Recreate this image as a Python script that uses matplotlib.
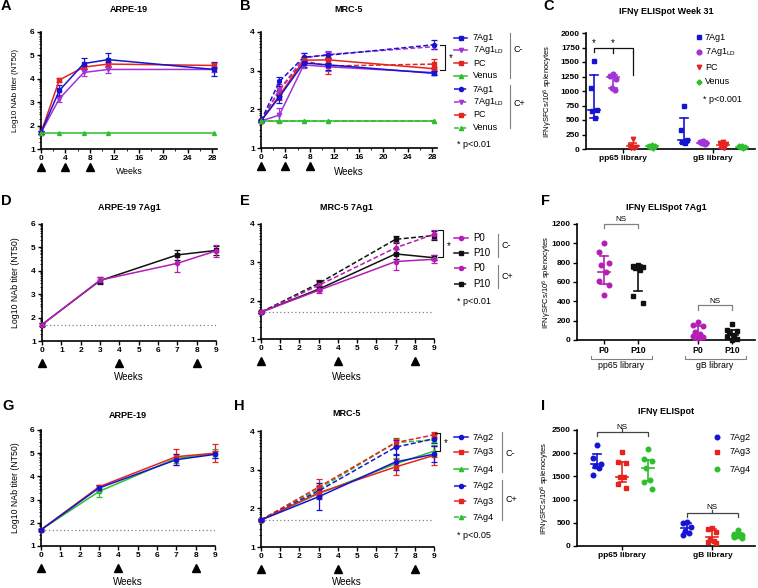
import numpy as np
import matplotlib
matplotlib.use('Agg')
import matplotlib.pyplot as plt
from matplotlib.lines import Line2D
from matplotlib.transforms import ScaledTranslation

plt.rcParams['font.family'] = ['Liberation Sans', 'DejaVu Sans']
plt.rcParams['mathtext.fontset'] = 'custom'
plt.rcParams['mathtext.rm'] = 'Liberation Sans'
plt.rcParams['mathtext.it'] = 'Liberation Sans:italic'
plt.rcParams['mathtext.bf'] = 'Liberation Sans:bold'

# ------------------------------------------------------------------ data
IMMUNIZATION_WEEKS = [0, 4, 8]
LOD = 1.7

# Panel A (ARPE-19)
A_WEEKS = [0, 3, 7, 11, 28.3]
A_7AG1 = [1.70, 3.50, 4.65, 4.82, 4.40]
A_7AG1_ERR = [0.05, 0.25, 0.25, 0.30, 0.30]
A_7AG1LD = [1.70, 3.15, 4.27, 4.40, 4.40]
A_7AG1LD_ERR = [0.05, 0.15, 0.17, 0.15, 0.10]
A_PC = [1.70, 3.95, 4.50, 4.63, 4.57]
A_PC_ERR = [0.05, 0.08, 0.10, 0.10, 0.10]
A_VENUS = [1.70, 1.70, 1.70, 1.70, 1.70]

# Panel B (MRC-5), C- solid / C+ dashed
B_WEEKS = [0, 3, 7, 11, 28.3]
B_7AG1 = [1.70, 2.32, 3.20, 3.15, 2.93]
B_7AG1_ERR = [0.03, 0.15, 0.10, 0.12, 0.05]
B_7AG1LD = [1.70, 1.85, 3.15, 3.10, 2.95]
B_7AG1LD_ERR = [0.03, 0.18, 0.08, 0.10, 0.05]
B_PC = [1.70, 2.35, 3.27, 3.28, 3.05]
B_PC_ERR = [0.03, 0.12, 0.08, 0.08, 0.05]
B_VENUS = [1.70, 1.70, 1.70, 1.70, 1.70]
B_7AG1_CP = [1.70, 2.72, 3.35, 3.40, 3.67]
B_7AG1_CP_ERR = [0.03, 0.12, 0.10, 0.08, 0.12]
B_7AG1LD_CP = [1.70, 2.50, 3.33, 3.42, 3.62]
B_7AG1LD_CP_ERR = [0.03, 0.10, 0.12, 0.08, 0.06]
B_PC_CP = [1.70, 2.50, 3.25, 3.12, 3.17]
B_PC_CP_ERR = [0.03, 0.15, 0.10, 0.20, 0.12]
B_VENUS_CP = [1.70, 1.70, 1.70, 1.70, 1.70]

# Panel C (ELISpot week 31)
C_GROUPS = ['7Ag1', '7Ag1$_{\\rm LD}$', 'PC', 'Venus']
C_PP65 = [[1510, 1050, 670, 650, 530],
          [1290, 1255, 1205, 1060, 1015],
          [170, 60, 40, 25, 15],
          [75, 55, 45, 35, 25]]
C_GB = [[750, 330, 150, 120, 110],
        [135, 115, 100, 95, 90],
        [115, 100, 85, 35, 20],
        [55, 45, 38, 30, 25]]
C_PP65_MID = [670, 1240, 50, 45]
C_PP65_LO = [540, 1050, 10, 25]
C_PP65_HI = [1280, 1275, 110, 70]
C_GB_MID = [150, 105, 75, 38]
C_GB_LO = [110, 95, 20, 25]
C_GB_HI = [540, 130, 110, 50]

# Panel D (ARPE-19 7Ag1)
D_WEEKS = [0, 3, 7, 9]
D_P0 = [1.70, 3.60, 4.32, 4.85]
D_P0_ERR = [0.05, 0.12, 0.35, 0.25]
D_P10 = [1.70, 3.58, 4.68, 4.87]
D_P10_ERR = [0.05, 0.15, 0.22, 0.20]

# Panel E (MRC-5 7Ag1)
E_WEEKS = [0, 3, 7, 9]
E_P0 = [1.70, 2.27, 3.02, 3.08]
E_P0_ERR = [0.02, 0.08, 0.22, 0.10]
E_P10 = [1.70, 2.30, 3.22, 3.12]
E_P10_ERR = [0.02, 0.06, 0.12, 0.06]
E_P0_CP = [1.70, 2.40, 3.38, 3.73]
E_P0_CP_ERR = [0.02, 0.12, 0.15, 0.12]
E_P10_CP = [1.70, 2.45, 3.60, 3.70]
E_P10_CP_ERR = [0.02, 0.08, 0.10, 0.13]

# Panel F (ELISpot 7Ag1)
F_LABELS = ['P0', 'P10', 'P0', 'P10']
F_VALUES = [[1000, 910, 800, 780, 700, 610, 570, 470],
            [780, 770, 760, 750, 720, 460, 380],
            [190, 160, 140, 80, 60, 40, 30, 20],
            [170, 100, 90, 70, 50, 30, 10, 0]]
F_MID = [700, 730, 45, 55]
F_LO = [580, 510, 0, 8]
F_HI = [870, 780, 150, 100]

# Panel G (ARPE-19)
G_WEEKS = [0, 3, 7, 9]
G_7AG2 = [1.70, 3.50, 4.72, 4.95]
G_7AG2_ERR = [0.05, 0.12, 0.25, 0.15]
G_7AG3 = [1.70, 3.55, 4.85, 5.00]
G_7AG3_ERR = [0.05, 0.10, 0.35, 0.40]
G_7AG4 = [1.70, 3.35, 4.78, 4.98]
G_7AG4_ERR = [0.05, 0.25, 0.20, 0.20]

# Panel H (MRC-5)
H_WEEKS = [0, 3, 7, 9]
H_7AG2 = [1.70, 2.30, 3.20, 3.40]
H_7AG2_ERR = [0.02, 0.35, 0.20, 0.20]
H_7AG3 = [1.70, 2.40, 3.07, 3.37]
H_7AG3_ERR = [0.02, 0.15, 0.20, 0.25]
H_7AG4 = [1.70, 2.38, 3.15, 3.48]
H_7AG4_ERR = [0.02, 0.12, 0.15, 0.15]
H_7AG2_CP = [1.70, 2.45, 3.58, 3.80]
H_7AG2_CP_ERR = [0.02, 0.12, 0.20, 0.12]
H_7AG3_CP = [1.70, 2.55, 3.70, 3.90]
H_7AG3_CP_ERR = [0.02, 0.20, 0.12, 0.08]
H_7AG4_CP = [1.70, 2.50, 3.70, 3.77]
H_7AG4_CP_ERR = [0.02, 0.15, 0.10, 0.08]

# Panel I (ELISpot)
I_GROUPS = ['7Ag2', '7Ag3', '7Ag4']
I_PP65 = [[2180, 1890, 1760, 1730, 1690, 1540],
          [2030, 1820, 1790, 1490, 1480, 1330, 1250],
          [2080, 1870, 1830, 1680, 1430, 1390, 1220]]
I_GB = [[520, 490, 400, 320, 290, 240],
        [390, 370, 300, 160, 110, 80, 60],
        [340, 260, 240, 220, 210, 200, 180]]
I_PP65_MID = [1770, 1480, 1680]
I_PP65_LO = [1680, 1380, 1400]
I_PP65_HI = [1980, 1810, 1860]
I_GB_MID = [380, 200, 220]
I_GB_LO = [280, 80, 190]
I_GB_HI = [490, 370, 290]

# ------------------------------------------------------------------ style
BLUE = '#1414d2'
PURPLE = '#a332d8'
MAG = '#b41eb4'
RED = '#e52420'
GREEN = '#2ebf2e'
BLACK = '#111111'
GRAY = '#808080'
DASH = (0, (3.2, 1.6))
TICKFS = 6

W, H = 758, 588
fig = plt.figure(figsize=(W / 100, H / 100), dpi=100)


def fx(x):
    return x / W


def fy(y):
    return 1 - y / H


def axes_px(l, t, r, b):
    return fig.add_axes([l / W, 1 - b / H, (r - l) / W, (b - t) / H])


def ftext(x, y, s, **kw):
    kw.setdefault('ha', 'left')
    kw.setdefault('va', 'center')
    fig.text(fx(x), fy(y), s, **kw)


def fline(xs, ys, **kw):
    fig.add_artist(Line2D([fx(v) for v in xs], [fy(v) for v in ys], **kw))


def fmark(x, y, **kw):
    fig.add_artist(Line2D([fx(x)], [fy(y)], ls='none', **kw))


def series(ax, x, y, e, color, marker, dashed=False, ms=3.2):
    cont = ax.errorbar(x, y, yerr=e, color=color, marker=marker, ms=ms,
                       lw=1.1, ls=DASH if dashed else '-', capsize=2,
                       elinewidth=0.9, capthick=0.9, zorder=3)
    for art in cont.get_children():
        art.set_clip_on(False)


def style_line(ax, xmax, xticks, ymin, ymax, xminor=None):
    ax.set_xlim(0, xmax)
    ax.set_ylim(ymin, ymax)
    for s in ['top', 'right']:
        ax.spines[s].set_visible(False)
    for s in ['left', 'bottom']:
        ax.spines[s].set_linewidth(1.2)
    ax.set_xticks(xticks)
    ax.set_xticklabels([str(t) for t in xticks], fontweight='bold', fontsize=TICKFS)
    yt = list(range(ymin, ymax + 1))
    ax.set_yticks(yt)
    ax.set_yticklabels([str(t) for t in yt], fontweight='bold', fontsize=TICKFS)
    ax.set_yticks([n + np.log10(k) for n in range(ymin, ymax) for k in range(2, 10)], minor=True)
    if xminor is not None:
        ax.set_xticks(xminor, minor=True)
    ax.tick_params(which='major', length=3, width=1, pad=1.5)
    ax.tick_params(which='minor', length=1.6, width=0.6)


def arrows(ax, dy):
    tr = ax.get_xaxis_transform() + ScaledTranslation(0, -dy / 100, fig.dpi_scale_trans)
    ax.plot(IMMUNIZATION_WEEKS, [0] * len(IMMUNIZATION_WEEKS), marker='^', ls='none',
            color='black', ms=5.6, transform=tr, clip_on=False)


def style_dot(ax, xlim, ymax, ystep):
    ax.set_xlim(*xlim)
    ax.set_ylim(0, ymax)
    for s in ['top', 'right']:
        ax.spines[s].set_visible(False)
    for s in ['left', 'bottom']:
        ax.spines[s].set_linewidth(1.2)
    yt = list(range(0, ymax + 1, ystep))
    ax.set_yticks(yt)
    ax.set_yticklabels([str(t) for t in yt], fontweight='bold', fontsize=TICKFS)
    ax.tick_params(which='major', length=3, width=1, pad=1.5)


SPREAD = [0, -1, 1, -0.5, 0.5, -1, 1, 0]


def dot_group(ax, p, vals, mid, lo, hi, color, marker, ppu, ms=3.2, spread_px=3.0):
    offs = np.array(SPREAD[:len(vals)]) * (spread_px / ppu)
    ax.plot(p + offs, vals, ls='none', marker=marker, color=color, ms=ms,
            clip_on=False, zorder=3)
    hw, cw = 6.0 / ppu, 3.8 / ppu
    kw = dict(color=color, lw=1.2, clip_on=False, zorder=4)
    ax.plot([p - hw, p + hw], [mid, mid], **kw)
    ax.plot([p, p], [lo, hi], **kw)
    ax.plot([p - cw, p + cw], [lo, lo], **kw)
    ax.plot([p - cw, p + cw], [hi, hi], **kw)


def bracket(ax, x0, x1, y, ydown, color, lw=0.9, mid=None, middown=None):
    kw = dict(color=color, lw=lw, clip_on=False)
    ax.plot([x0, x0, x1, x1], [ydown, y, y, ydown], **kw)
    if mid is not None:
        ax.plot([mid, mid], [y, middown], **kw)


YLAB = 'Log10 NAb titer (NT50)'
ELILAB = 'IFN\u03b3SFCs/10$^{6}$ splenocytes'

# panel letters
for lab, x, y in [('A', 1, 6), ('B', 240, 6), ('C', 543, 6), ('D', 1, 201), ('E', 240, 201),
                  ('F', 541, 201), ('G', 2, 406), ('H', 234, 406), ('I', 541, 406)]:
    ftext(x, y, lab, fontsize=10.5, fontweight='bold')

# ------------------------------------------------------------------ A
axA = axes_px(41, 32, 217, 149)
series(axA, A_WEEKS, A_PC, A_PC_ERR, RED, 's')
series(axA, A_WEEKS, A_7AG1LD, A_7AG1LD_ERR, PURPLE, 'v')
series(axA, A_WEEKS, A_7AG1, A_7AG1_ERR, BLUE, 's')
series(axA, A_WEEKS, A_VENUS, None, GREEN, '^', ms=2.8)
style_line(axA, 28.8, list(range(0, 29, 4)), 1, 6, xminor=list(range(0, 29, 2)))
arrows(axA, 18)
ftext(129, 10, 'ARPE-19', ha='center', fontsize=6.5, fontweight='bold')
ftext(129, 172, 'Weeks', ha='center', fontsize=6.3)
ftext(16, 90, YLAB, ha='center', rotation=90, fontsize=5.8)

# ------------------------------------------------------------------ B
axB = axes_px(261, 32, 437, 148)
series(axB, B_WEEKS, B_PC_CP, B_PC_CP_ERR, RED, 's', dashed=True)
series(axB, B_WEEKS, B_7AG1LD_CP, B_7AG1LD_CP_ERR, PURPLE, 'v', dashed=True)
series(axB, B_WEEKS, B_7AG1_CP, B_7AG1_CP_ERR, BLUE, 'o', dashed=True, ms=2.8)
series(axB, B_WEEKS, B_VENUS_CP, None, GREEN, '^', dashed=True, ms=2.8)
series(axB, B_WEEKS, B_PC, B_PC_ERR, RED, 's')
series(axB, B_WEEKS, B_7AG1LD, B_7AG1LD_ERR, PURPLE, 'v')
series(axB, B_WEEKS, B_7AG1, B_7AG1_ERR, BLUE, 's')
series(axB, B_WEEKS, B_VENUS, None, GREEN, '^', ms=2.8)
style_line(axB, 28.8, list(range(0, 29, 4)), 1, 4, xminor=list(range(0, 29, 2)))
arrows(axB, 18)
ftext(349, 10, 'MRC-5', ha='center', fontsize=6.5, fontweight='bold')
ftext(349, 172, 'Weeks', ha='center', fontsize=7)
# significance bracket
fline([440, 445, 445, 440], [45, 45, 70, 70], color=BLACK, lw=0.8)
ftext(449, 58, '*', fontsize=7)
# legend
B_LEG = [(BLUE, 's', False, '7Ag1'), (PURPLE, 'v', False, '7Ag1$_{\\rm LD}$'),
         (RED, 's', False, 'PC'), (GREEN, '^', False, 'Venus'),
         (BLUE, 'o', True, '7Ag1'), (PURPLE, 'v', True, '7Ag1$_{\\rm LD}$'),
         (RED, 's', True, 'PC'), (GREEN, '^', True, 'Venus')]
for (c, m, d, t), yy in zip(B_LEG, [38, 50, 63, 76, 89, 102, 115, 128]):
    fline([454, 467], [yy, yy], color=c, lw=1.1, ls=DASH if d else '-')
    fmark(460.5, yy, marker=m, color=c, ms=3)
    ftext(473, yy, t, fontsize=6.5)
ftext(457, 144, '* p<0.01', fontsize=6.5)
fline([510, 510], [33, 78], color=GRAY, lw=0.8)
fline([510, 510], [85, 128], color=GRAY, lw=0.8)
ftext(513, 50, 'C-', fontsize=6.5)
ftext(513, 103, 'C+', fontsize=6.5)

# ------------------------------------------------------------------ C
axC = axes_px(586, 33, 755, 149)
C_POS = [0, 1, 2, 3]
C_GB_POS = [4.66, 5.66, 6.66, 7.66]
C_COL = [BLUE, PURPLE, RED, GREEN]
C_MK = ['s', 'o', 'v', 'D']
C_MS = [3.2, 3.4, 3.2, 2.6]
style_dot(axC, (-0.41, 8.34), 2000, 250)
ppuC = 19.3
for i in range(4):
    dot_group(axC, C_POS[i], C_PP65[i], C_PP65_MID[i], C_PP65_LO[i], C_PP65_HI[i],
              C_COL[i], C_MK[i], ppuC, C_MS[i])
    dot_group(axC, C_GB_POS[i], C_GB[i], C_GB_MID[i], C_GB_LO[i], C_GB_HI[i],
              C_COL[i], C_MK[i], ppuC, C_MS[i])
axC.set_xticks([1.5, 6.16])
axC.set_xticklabels(['pp65 library', 'gB library'], fontweight='bold', fontsize=6)
bracket(axC, 0, 2, 1740, 1670, BLACK, mid=1, middown=1660)
axC.plot([2, 2], [1670, 1270], color=BLACK, lw=0.9, clip_on=False)
axC.text(0, 1820, '*', ha='center', va='center', fontsize=7)
axC.text(1, 1820, '*', ha='center', va='center', fontsize=7)
ftext(666, 12, 'IFN\u03b3 ELISpot Week 31', ha='center', fontsize=6.5, fontweight='bold')
ftext(548, 91, ELILAB, ha='center', rotation=90, fontsize=5.5)
for i, yy in enumerate([37, 52, 67, 82]):
    fmark(699, yy, marker=C_MK[i], color=C_COL[i], ms=C_MS[i])
    ftext(705, yy, C_GROUPS[i], fontsize=6.5)
ftext(703, 99, '* p<0.001', fontsize=6.5)

# ------------------------------------------------------------------ D
axD = axes_px(42, 224, 216, 341)
axD.axhline(LOD, color=GRAY, ls=(0, (1, 2)), lw=0.9)
series(axD, D_WEEKS, D_P10, D_P10_ERR, BLACK, 's', ms=3)
series(axD, D_WEEKS, D_P0, D_P0_ERR, MAG, 'o', ms=3)
style_line(axD, 9, list(range(0, 10)), 1, 6)
arrows(axD, 22)
ftext(129, 207, 'ARPE-19 7Ag1', ha='center', fontsize=6.5, fontweight='bold')
ftext(129, 377, 'Weeks', ha='center', fontsize=7)
ftext(16, 283, YLAB, ha='center', rotation=90, fontsize=6.3)

# ------------------------------------------------------------------ E
axE = axes_px(261, 224, 434, 339)
axE.axhline(LOD, color=GRAY, ls=(0, (1, 2)), lw=0.9)
series(axE, E_WEEKS, E_P10_CP, E_P10_CP_ERR, BLACK, 's', dashed=True, ms=3)
series(axE, E_WEEKS, E_P0_CP, E_P0_CP_ERR, MAG, 'o', dashed=True, ms=3)
series(axE, E_WEEKS, E_P10, E_P10_ERR, BLACK, 's', ms=3)
series(axE, E_WEEKS, E_P0, E_P0_ERR, MAG, 'o', ms=3)
style_line(axE, 9, list(range(0, 10)), 1, 4)
arrows(axE, 22)
ftext(347, 208, 'MRC-5 7Ag1', ha='center', fontsize=6.5, fontweight='bold')
ftext(347, 377, 'Weeks', ha='center', fontsize=7)
fline([438, 443, 443, 438], [230, 230, 257, 257], color=BLACK, lw=0.8)
ftext(447, 246, '*', fontsize=7)
E_LEG = [(MAG, 'o', False, 'P0'), (BLACK, 's', False, 'P10'),
         (MAG, 'o', True, 'P0'), (BLACK, 's', True, 'P10')]
for (c, m, d, t), yy in zip(E_LEG, [238, 253, 268, 284]):
    fline([454, 468], [yy, yy], color=c, lw=1.1, ls=DASH if d else '-')
    fmark(461, yy, marker=m, color=c, ms=3)
    ftext(473, yy, t, fontsize=7)
ftext(457, 302, '* p<0.01', fontsize=6.5)
fline([498, 498], [234, 257], color=GRAY, lw=0.8)
fline([498, 498], [265, 288], color=GRAY, lw=0.8)
ftext(502, 245, 'C-', fontsize=6.5)
ftext(502, 276, 'C+', fontsize=6.5)

# ------------------------------------------------------------------ F
axF = axes_px(577, 224, 755, 340)
F_POS = [0, 1, 2.76, 3.76]
F_COL = [MAG, BLACK, MAG, BLACK]
F_MK = ['o', 's', 'o', 's']
style_dot(axF, (-0.79, 4.44), 1200, 200)
ppuF = 34.0
for i in range(4):
    dot_group(axF, F_POS[i], F_VALUES[i], F_MID[i], F_LO[i], F_HI[i], F_COL[i], F_MK[i],
              ppuF, 3.3, spread_px=5.0)
axF.set_xticks(F_POS)
axF.set_xticklabels(F_LABELS, fontweight='bold', fontsize=6.3)
bracket(axF, 0, 1, 1205, 1160, GRAY)
axF.text(0.5, 1250, 'NS', ha='center', va='center', fontsize=5.8)
bracket(axF, 2.76, 3.76, 360, 310, GRAY)
axF.text(3.26, 395, 'NS', ha='center', va='center', fontsize=5.8)
fline([591, 591, 652, 652], [356, 359, 359, 356], color=GRAY, lw=0.8)
fline([685, 685, 746, 746], [356, 359, 359, 356], color=GRAY, lw=0.8)
ftext(621, 366, 'pp65 library', ha='center', fontsize=6.3)
ftext(715, 366, 'gB library', ha='center', fontsize=6.3)
ftext(666, 207, 'IFN\u03b3 ELISpot 7Ag1', ha='center', fontsize=6.5, fontweight='bold')
ftext(547, 282, ELILAB, ha='center', rotation=90, fontsize=5.5)

# ------------------------------------------------------------------ G
axG = axes_px(41, 430, 215, 546)
axG.axhline(LOD, color=GRAY, ls=(0, (1, 2)), lw=0.9)
series(axG, G_WEEKS, G_7AG4, G_7AG4_ERR, GREEN, '^', ms=3)
series(axG, G_WEEKS, G_7AG3, G_7AG3_ERR, RED, 's', ms=3)
series(axG, G_WEEKS, G_7AG2, G_7AG2_ERR, BLUE, 'o', ms=3)
style_line(axG, 9, list(range(0, 10)), 1, 6)
arrows(axG, 22)
ftext(128, 415, 'ARPE-19', ha='center', fontsize=6.5, fontweight='bold')
ftext(128, 582, 'Weeks', ha='center', fontsize=7)
ftext(16, 488, YLAB, ha='center', rotation=90, fontsize=6.3)

# ------------------------------------------------------------------ H
axH = axes_px(261, 431, 434, 547)
axH.axhline(LOD, color=GRAY, ls=(0, (1, 2)), lw=0.9)
series(axH, H_WEEKS, H_7AG4_CP, H_7AG4_CP_ERR, GREEN, '^', dashed=True, ms=3)
series(axH, H_WEEKS, H_7AG3_CP, H_7AG3_CP_ERR, RED, 's', dashed=True, ms=3)
series(axH, H_WEEKS, H_7AG2_CP, H_7AG2_CP_ERR, BLUE, 'o', dashed=True, ms=3)
series(axH, H_WEEKS, H_7AG4, H_7AG4_ERR, GREEN, '^', ms=3)
series(axH, H_WEEKS, H_7AG3, H_7AG3_ERR, RED, 's', ms=3)
series(axH, H_WEEKS, H_7AG2, H_7AG2_ERR, BLUE, 'o', ms=3)
style_line(axH, 9, list(range(0, 10)), 1, 4)
arrows(axH, 22)
ftext(347, 414, 'MRC-5', ha='center', fontsize=6.5, fontweight='bold')
ftext(347, 582, 'Weeks', ha='center', fontsize=7)
fline([435, 440, 440, 435], [433, 433, 451, 451], color=BLACK, lw=0.8)
ftext(444, 443, '*', fontsize=7)
H_LEG = [(BLUE, 'o', False, '7Ag2'), (RED, 's', False, '7Ag3'), (GREEN, '^', False, '7Ag4'),
         (BLUE, 'o', True, '7Ag2'), (RED, 's', True, '7Ag3'), (GREEN, '^', True, '7Ag4')]
for (c, m, d, t), yy in zip(H_LEG, [437, 452, 469, 486, 501, 517]):
    fline([454, 468], [yy, yy], color=c, lw=1.1, ls=DASH if d else '-')
    fmark(461, yy, marker=m, color=c, ms=3)
    ftext(473, yy, t, fontsize=6.5)
ftext(457, 536, '* p<0.05', fontsize=6.5)
fline([502, 502], [432, 472], color=GRAY, lw=0.8)
fline([502, 502], [480, 520], color=GRAY, lw=0.8)
ftext(506, 453, 'C-', fontsize=6.5)
ftext(506, 500, 'C+', fontsize=6.5)

# ------------------------------------------------------------------ I
axI = axes_px(577, 430, 755, 546)
I_POS = [0, 1, 2]
I_GB_POS = [3.53, 4.53, 5.53]
I_COL = [BLUE, RED, GREEN]
I_MK = ['o', 's', 'o']
style_dot(axI, (-0.78, 6.2), 2500, 500)
ppuI = 25.5
for i in range(3):
    dot_group(axI, I_POS[i], I_PP65[i], I_PP65_MID[i], I_PP65_LO[i], I_PP65_HI[i],
              I_COL[i], I_MK[i], ppuI, 3.3, spread_px=4.0)
    dot_group(axI, I_GB_POS[i], I_GB[i], I_GB_MID[i], I_GB_LO[i], I_GB_HI[i],
              I_COL[i], I_MK[i], ppuI, 3.3, spread_px=4.0)
axI.set_xticks([1, 4.53])
axI.set_xticklabels(['pp65 library', 'gB library'], fontweight='bold', fontsize=6)
bracket(axI, 0, 2, 2457, 2363, '#444444', mid=1, middown=2520)
axI.text(1, 2560, 'NS', ha='center', va='center', fontsize=5.8)
bracket(axI, 3.53, 5.53, 711, 618, '#444444', mid=4.53, middown=770)
axI.text(4.53, 820, 'NS', ha='center', va='center', fontsize=5.8)
ftext(666, 412, 'IFN\u03b3 ELISpot', ha='center', fontsize=6.5, fontweight='bold')
ftext(545, 488, ELILAB, ha='center', rotation=90, fontsize=5.5)
for i, yy in enumerate([437, 452, 469]):
    fmark(717, yy, marker=I_MK[i], color=I_COL[i], ms=3.3)
    ftext(730, yy, I_GROUPS[i], fontsize=6.5)

fig.savefig('out.png', dpi=100)
